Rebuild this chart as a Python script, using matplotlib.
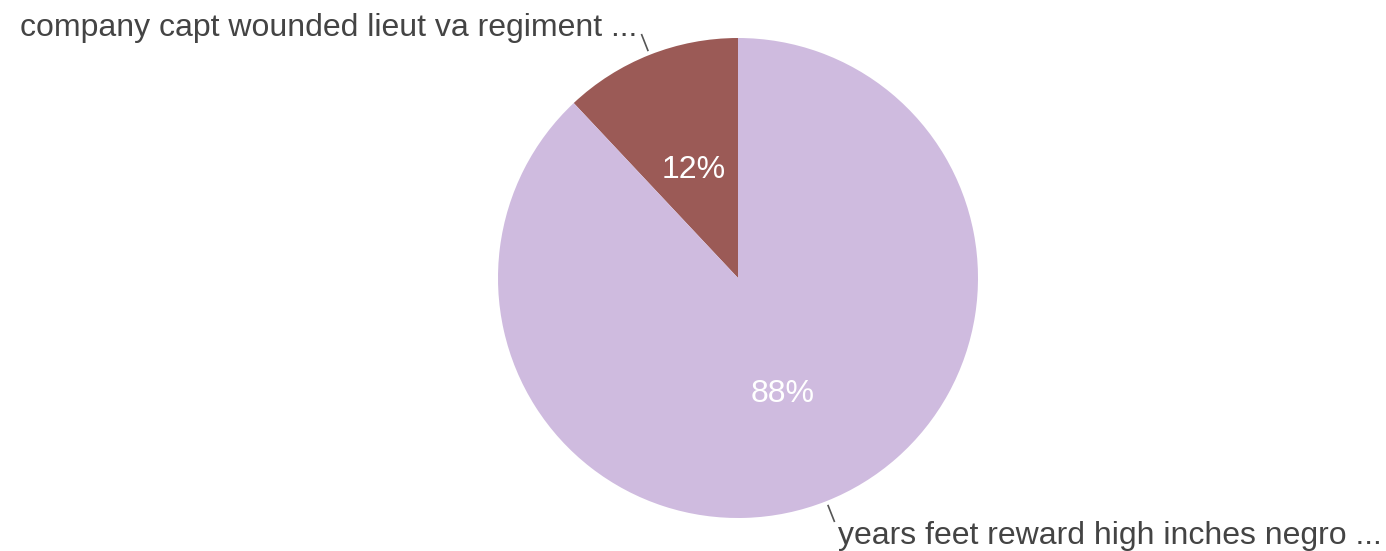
import numpy as np
import matplotlib.pyplot as plt

labels = ["company capt wounded lieut va regiment ...", "years feet reward high inches negro ..."]
shares = [12, 88]
colors = ["#9b5a56", "#cfbbdf"]

plt.rcParams["font.family"] = ["Liberation Sans", "DejaVu Sans"]

fig = plt.figure(figsize=(13.86, 5.51), dpi=100)
ax = fig.add_axes([0, 0, 1, 1])

cx, cy, R = 738, 551 - 278, 240
wedges, _, autotexts = ax.pie(
    shares, colors=colors, startangle=90, counterclock=True, radius=R, center=(cx, cy),
    autopct="%d%%", pctdistance=0.5, wedgeprops=dict(linewidth=0),
    textprops=dict(color="white", fontsize=23),
)
for t in autotexts:
    x, y = t.get_position()
    t.set_position((x, y - 4))
ax.set_xlim(0, 1386)
ax.set_ylim(0, 551)
ax.set_aspect("equal")
ax.axis("off")

for w, lab in zip(wedges, labels):
    ang = np.deg2rad((w.theta1 + w.theta2) / 2)
    ux, uy = np.cos(ang), np.sin(ang)
    ax.plot([cx + 1.02 * R * ux, cx + 1.09 * R * ux], [cy + 1.02 * R * uy, cy + 1.09 * R * uy],
            color="#555555", lw=1.2)
    ha = "left" if ux > 0 else "right"
    ax.text(cx + 1.135 * R * ux, cy + 1.14 * R * uy - 4, lab, ha=ha, va="center",
            fontsize=23, color="#444444")

fig.savefig("out.png", dpi=100)
